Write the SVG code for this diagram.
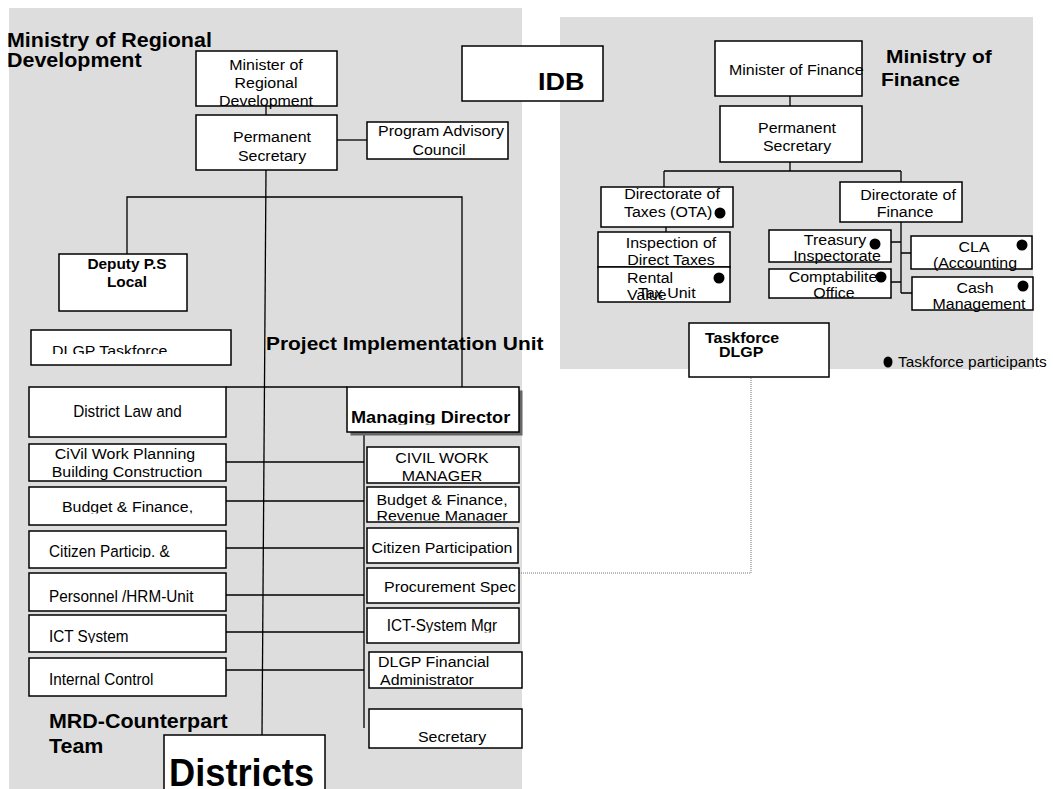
<svg xmlns="http://www.w3.org/2000/svg" width="1053" height="789" viewBox="0 0 1053 789">
<style>
.t{font-family:"Liberation Sans",Arial,sans-serif;font-size:14.5px;fill:#000}
.b{font-weight:bold}
.m{text-anchor:middle}
.box{fill:#fff;stroke:#000;stroke-width:1.5}
.ln{stroke:#000;stroke-width:1.3;fill:none}
.dot{fill:#000}
</style>
<defs>
<clipPath id="c-dlgp"><rect x="31" y="330" width="200" height="24"/></clipPath>
<clipPath id="c-md"><rect x="347" y="387" width="172" height="37.5"/></clipPath>
<clipPath id="c-civil"><rect x="367" y="447" width="152" height="35"/></clipPath>
<clipPath id="c-budrev"><rect x="367" y="487" width="152" height="33.5"/></clipPath>
<clipPath id="c-budl"><rect x="29" y="487" width="197" height="26.5"/></clipPath>
<clipPath id="c-cit"><rect x="29" y="531" width="197" height="27"/></clipPath>
<clipPath id="c-ict"><rect x="29" y="615" width="197" height="28"/></clipPath>
<clipPath id="c-ictm"><rect x="367" y="608" width="152" height="24.5"/></clipPath>
<clipPath id="c-value"><rect x="598" y="267" width="132" height="34"/></clipPath>
<clipPath id="c-office"><rect x="769" y="269" width="122" height="29"/></clipPath>
</defs>

<g id="panels">
<rect x="9" y="8" width="513" height="781" fill="#dddddd"/>
<rect x="560" y="17" width="473" height="352" fill="#dddddd"/>
</g>

<g id="titles">
<text class="t b" style="font-size:19.5px" transform="matrix(1.1 0 0 1 7 47)">Ministry of Regional</text>
<text class="t b" style="font-size:19.5px" transform="matrix(1.1 0 0 1 7 67)">Development</text>
<text class="t b" style="font-size:19px" transform="matrix(1.1 0 0 1 266 350)">Project Implementation Unit</text>
<text class="t b" style="font-size:19.5px" transform="matrix(1.1 0 0 1 49 728)">MRD-Counterpart</text>
<text class="t b" style="font-size:19.5px" transform="matrix(1.1 0 0 1 49 753)">Team</text>
<text class="t b" style="font-size:19px" transform="matrix(1.1 0 0 1 886 63)">Ministry of</text>
<text class="t b" style="font-size:19px" transform="matrix(1.1 0 0 1 881 86)">Finance</text>
</g>

<g id="connectors">
<path class="ln" d="M266 106V115"/>
<path class="ln" d="M337 140H367"/>
<path class="ln" d="M266 170L262 735"/>
<path class="ln" d="M127 254V197H462V387"/>
<path class="ln" d="M226 387H347"/>
<path class="ln" d="M364 432V728"/>
<path class="ln" d="M226 462H364M226 501H364M226 548H364M226 595H364M226 632H364M226 670H364"/>
<path class="ln" d="M790 96V106M790 162V171M664 171H901M664 171V187M901 171V182M666 227V232"/>
<path class="ln" d="M901 222V293M891 242H901M901 253H911M891 282H901M901 293H912"/>
<path d="M519 573H751V362" fill="none" stroke="#777" stroke-width="1" stroke-dasharray="1 1"/>
</g>

<g id="mrd-minister">
<rect class="box" x="196" y="51" width="141" height="55"/>
<text class="t m" transform="matrix(1.1 0 0 1 266 70)">Minister of</text>
<text class="t m" transform="matrix(1.1 0 0 1 266 88)">Regional</text>
<text class="t m" transform="matrix(1.1 0 0 1 266 106)">Development</text>
</g>
<g id="mrd-ps">
<rect class="box" x="196" y="115" width="141" height="55"/>
<text class="t m" transform="matrix(1.1 0 0 1 272 142)">Permanent</text>
<text class="t m" transform="matrix(1.1 0 0 1 272 161)">Secretary</text>
</g>
<g id="program-advisory">
<rect class="box" x="367" y="122" width="141" height="37"/>
<text class="t m" transform="matrix(1.1 0 0 1 441 136)">Program Advisory</text>
<text class="t m" transform="matrix(1.1 0 0 1 439 155)">Council</text>
</g>
<g id="deputy-ps">
<rect class="box" x="59" y="254" width="128" height="57"/>
<text class="t b m" style="font-size:14px" transform="matrix(1.1 0 0 1 127 269)">Deputy P.S</text>
<text class="t b m" style="font-size:14px" transform="matrix(1.1 0 0 1 127 287)">Local</text>
</g>
<g id="dlgp-taskforce">
<rect class="box" x="31" y="330" width="200" height="35"/>
<g clip-path="url(#c-dlgp)"><text class="t" transform="matrix(1.1 0 0 1 52 356)">DLGP Taskforce</text></g>
</g>
<g id="district-law">
<rect class="box" x="29" y="387" width="197" height="50"/>
<text class="t m" style="font-size:17px" transform="matrix(0.9 0 0 1 127.5 417)">District Law and</text>
</g>
<g id="civil-planning">
<rect class="box" x="29" y="444" width="197" height="37"/>
<text class="t m" transform="matrix(1.1 0 0 1 125 459)">CiVil Work Planning</text>
<text class="t m" transform="matrix(1.1 0 0 1 127 477)">Building Construction</text>
</g>
<g id="budget-left">
<rect class="box" x="29" y="487" width="197" height="38"/>
<g clip-path="url(#c-budl)"><text class="t m" transform="matrix(1.1 0 0 1 127.5 512)">Budget &amp; Finance,</text></g>
</g>
<g id="citizen-left">
<rect class="box" x="29" y="531" width="197" height="37"/>
<g clip-path="url(#c-cit)"><text class="t" style="font-size:17px" transform="matrix(0.9 0 0 1 49 557)">Citizen Particip. &amp;</text></g>
</g>
<g id="personnel">
<rect class="box" x="29" y="573" width="197" height="38"/>
<text class="t" style="font-size:17px" transform="matrix(0.9 0 0 1 49 602)">Personnel /HRM-Unit</text>
</g>
<g id="ict-left">
<rect class="box" x="29" y="615" width="197" height="37"/>
<g clip-path="url(#c-ict)"><text class="t" style="font-size:17px" transform="matrix(0.9 0 0 1 49 642)">ICT System</text></g>
</g>
<g id="internal-control">
<rect class="box" x="29" y="658" width="197" height="38"/>
<text class="t" style="font-size:17px" transform="matrix(0.9 0 0 1 49 685)">Internal Control</text>
</g>
<g id="districts">
<rect class="box" x="164" y="735" width="161" height="60"/>
<text class="t b" style="font-size:39px" transform="matrix(0.93 0 0 1 169 786)">Districts</text>
</g>
<g id="managing-director">
<rect x="350.5" y="390.5" width="172" height="45" fill="#666"/>
<rect class="box" x="347" y="387" width="172" height="45"/>
<g clip-path="url(#c-md)"><text class="t b" style="font-size:16.5px" transform="matrix(1.1 0 0 1 351 423)">Managing Director</text></g>
</g>
<g id="civil-manager">
<rect class="box" x="367" y="447" width="152" height="36"/>
<g clip-path="url(#c-civil)">
<text class="t m" transform="matrix(1.1 0 0 1 442 463)">CIVIL WORK</text>
<text class="t m" transform="matrix(1.1 0 0 1 442 481)">MANAGER</text>
</g>
</g>
<g id="budget-revenue">
<rect class="box" x="367" y="487" width="152" height="35"/>
<g clip-path="url(#c-budrev)">
<text class="t m" transform="matrix(1.1 0 0 1 442 505)">Budget &amp; Finance,</text>
<text class="t m" transform="matrix(1.1 0 0 1 442 521)">Revenue Manager</text>
</g>
</g>
<g id="citizen-participation">
<rect class="box" x="367" y="528" width="151" height="35"/>
<text class="t m" transform="matrix(1.1 0 0 1 442 553)">Citizen Participation</text>
</g>
<g id="procurement">
<rect class="box" x="367" y="568" width="152" height="35"/>
<text class="t" transform="matrix(1.1 0 0 1 384 592)">Procurement Spec</text>
</g>
<g id="ict-manager">
<rect class="box" x="367" y="608" width="152" height="35"/>
<g clip-path="url(#c-ictm)"><text class="t m" style="font-size:17px" transform="matrix(0.9 0 0 1 442 631)">ICT-System Mgr</text></g>
</g>
<g id="dlgp-financial">
<rect class="box" x="369" y="652" width="153" height="36"/>
<text class="t" transform="matrix(1.1 0 0 1 378 667)">DLGP Financial</text>
<text class="t" transform="matrix(1.1 0 0 1 380 685)">Administrator</text>
</g>
<g id="secretary">
<rect class="box" x="369" y="709" width="153" height="39"/>
<text class="t m" transform="matrix(1.1 0 0 1 452 742)">Secretary</text>
</g>

<g id="idb">
<rect class="box" x="462" y="46" width="141" height="55"/>
<text class="t b" style="font-size:24.5px" transform="matrix(1.1 0 0 1 538 90)">IDB</text>
</g>

<g id="mof-minister">
<rect class="box" x="715" y="41" width="147" height="55"/>
<text class="t" transform="matrix(1.1 0 0 1 729 75)">Minister of Finance</text>
</g>
<g id="mof-ps">
<rect class="box" x="720" y="106" width="142" height="56"/>
<text class="t m" transform="matrix(1.1 0 0 1 797 133)">Permanent</text>
<text class="t m" transform="matrix(1.1 0 0 1 797 151)">Secretary</text>
</g>
<g id="dir-taxes">
<rect class="box" x="601" y="187" width="132" height="40"/>
<text class="t m" transform="matrix(1.1 0 0 1 672 199)">Directorate of</text>
<text class="t" transform="matrix(1.1 0 0 1 624 217)">Taxes  (OTA)</text>
<circle class="dot" cx="720" cy="213" r="5.5"/>
</g>
<g id="inspection">
<rect class="box" x="598" y="232" width="132" height="35"/>
<text class="t m" transform="matrix(1.1 0 0 1 671 248)">Inspection of</text>
<text class="t m" transform="matrix(1.1 0 0 1 671 265)">Direct Taxes</text>
</g>
<g id="rental">
<rect class="box" x="598" y="267" width="132" height="35"/>
<text class="t" transform="matrix(1.1 0 0 1 627 283)">Rental</text>
<g clip-path="url(#c-value)"><text class="t" transform="matrix(1.1 0 0 1 627 300)">Value</text></g>
<text class="t" transform="matrix(1.1 0 0 1 638 298)">Tax Unit</text>
<circle class="dot" cx="719" cy="278" r="5.5"/>
</g>
<g id="dir-finance">
<rect class="box" x="840" y="182" width="122" height="40"/>
<text class="t m" transform="matrix(1.1 0 0 1 908 200)">Directorate of</text>
<text class="t m" transform="matrix(1.1 0 0 1 905 217)">Finance</text>
</g>
<g id="treasury">
<rect class="box" x="769" y="230" width="122" height="32"/>
<text class="t m" transform="matrix(1.1 0 0 1 835 245)">Treasury</text>
<text class="t m" transform="matrix(1.1 0 0 1 837 261)">Inspectorate</text>
<circle class="dot" cx="875" cy="244" r="5.5"/>
</g>
<g id="comptabilites">
<rect class="box" x="769" y="269" width="122" height="29"/>
<text class="t m" transform="matrix(1.1 0 0 1 837 282)">Comptabilites</text>
<g clip-path="url(#c-office)"><text class="t m" transform="matrix(1.1 0 0 1 834 298)">Office</text></g>
<circle class="dot" cx="881" cy="277" r="5.5"/>
</g>
<g id="cla">
<rect class="box" x="911" y="236" width="121" height="33"/>
<text class="t m" transform="matrix(1.1 0 0 1 974 252)">CLA</text>
<text class="t m" transform="matrix(1.1 0 0 1 975 268)">(Accounting</text>
<circle class="dot" cx="1022" cy="245" r="5.5"/>
</g>
<g id="cash">
<rect class="box" x="912" y="277" width="121" height="33"/>
<text class="t m" transform="matrix(1.1 0 0 1 975 293)">Cash</text>
<text class="t m" transform="matrix(1.1 0 0 1 979 309)">Management</text>
<circle class="dot" cx="1023" cy="286" r="5.5"/>
</g>
<g id="taskforce-dlgp">
<rect class="box" x="689" y="323" width="140" height="54"/>
<text class="t b" transform="matrix(1.1 0 0 1 705 343)">Taskforce</text>
<text class="t b" transform="matrix(1.1 0 0 1 719 357)">DLGP</text>
</g>
<g id="legend">
<ellipse class="dot" cx="888" cy="362" rx="4.5" ry="5.5"/>
<text class="t" style="font-size:14px" transform="matrix(1.1 0 0 1 898 367)">Taskforce participants</text>
</g>
</svg>
